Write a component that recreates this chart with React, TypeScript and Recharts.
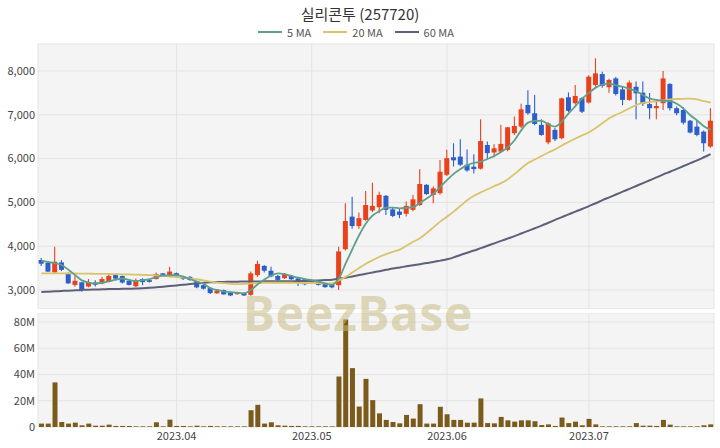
import { ComposedChart, Bar, Line, XAxis, YAxis, CartesianGrid } from 'recharts';

// trading days, 2023-03-06 .. 2023-07-27
const dates = [
  '2023-03-06', '2023-03-07', '2023-03-08', '2023-03-09', '2023-03-10', '2023-03-13', '2023-03-14', '2023-03-15', '2023-03-16', '2023-03-17',
  '2023-03-20', '2023-03-21', '2023-03-22', '2023-03-23', '2023-03-24', '2023-03-27', '2023-03-28', '2023-03-29', '2023-03-30', '2023-03-31',
  '2023-04-03', '2023-04-04', '2023-04-05', '2023-04-06', '2023-04-07', '2023-04-10', '2023-04-11', '2023-04-12', '2023-04-13', '2023-04-14',
  '2023-04-17', '2023-04-18', '2023-04-19', '2023-04-20', '2023-04-21', '2023-04-24', '2023-04-25', '2023-04-26', '2023-04-27', '2023-04-28',
  '2023-05-02', '2023-05-03', '2023-05-04', '2023-05-08', '2023-05-09', '2023-05-10', '2023-05-11', '2023-05-12', '2023-05-15', '2023-05-16',
  '2023-05-17', '2023-05-18', '2023-05-19', '2023-05-22', '2023-05-23', '2023-05-24', '2023-05-25', '2023-05-26', '2023-05-30', '2023-05-31',
  '2023-06-01', '2023-06-02', '2023-06-05', '2023-06-07', '2023-06-08', '2023-06-09', '2023-06-12', '2023-06-13', '2023-06-14', '2023-06-15',
  '2023-06-16', '2023-06-19', '2023-06-20', '2023-06-21', '2023-06-22', '2023-06-23', '2023-06-26', '2023-06-27', '2023-06-28', '2023-06-29',
  '2023-06-30', '2023-07-03', '2023-07-04', '2023-07-05', '2023-07-06', '2023-07-07', '2023-07-10', '2023-07-11', '2023-07-12', '2023-07-13',
  '2023-07-14', '2023-07-17', '2023-07-18', '2023-07-19', '2023-07-20', '2023-07-21', '2023-07-24', '2023-07-25', '2023-07-26', '2023-07-27',
];

const opens = [
  3685, 3620, 3404, 3630, 3380, 3115, 3175, 3080, 3170, 3150, 3205, 3340, 3320, 3210, 3085, 3250, 3225, 3250, 3380, 3330,
  3385, 3310, 3300, 3200, 3110, 3050, 2925, 3000, 2945, 2905, 2930, 2890, 3340, 3550, 3440, 3320, 3270, 3320, 3265, 3245,
  3155, 3190, 3135, 3120, 3110, 3930, 4675, 4460, 4600, 4815, 4890, 5150, 4840, 4790, 4740, 4830, 4940, 5400, 5170, 5210,
  5630, 6030, 6045, 5860, 5815, 5770, 6310, 6140, 6160, 6200, 6580, 6730, 7225, 7035, 6770, 6370, 6655, 6465, 7400, 7265,
  7380, 7280, 7680, 7930, 7630, 7830, 7580, 7340, 7640, 7505, 7245, 7150, 7265, 7705, 7150, 7110, 6865, 6730, 6615, 6275,
];
const highs = [
  3730, 3640, 3990, 3680, 3400, 3340, 3190, 3250, 3220, 3300, 3385, 3370, 3330, 3230, 3260, 3270, 3240, 3400, 3390, 3530,
  3400, 3330, 3320, 3210, 3120, 3070, 3000, 3010, 2960, 2960, 2945, 3420, 3670, 3570, 3530, 3340, 3390, 3340, 3280, 3260,
  3220, 3200, 3150, 3140, 3990, 4980, 5130, 4770, 5260, 5450, 5245, 5170, 4870, 4860, 5020, 5170, 5755, 5420, 5360, 5970,
  6200, 6350, 6440, 6210, 6100, 6900, 6390, 6330, 6770, 6720, 6960, 7250, 7560, 7450, 6900, 6830, 6700, 7390, 7510, 7680,
  7400, 7900, 8290, 7985, 7820, 7860, 7660, 7780, 7760, 7760, 7500, 7360, 8000, 7720, 7190, 7180, 6880, 6880, 6640, 7150,
];
const lows = [
  3550, 3410, 3390, 3430, 3140, 3075, 2960, 3060, 3080, 3130, 3190, 3220, 3150, 3100, 3070, 3110, 3170, 3240, 3320, 3310,
  3290, 3230, 3210, 3040, 3010, 2910, 2910, 2890, 2860, 2890, 2860, 2870, 3300, 3400, 3290, 3210, 3250, 3230, 3090, 3110,
  3140, 3100, 3050, 3040, 3000, 3900, 4400, 4400, 4580, 4780, 4750, 4710, 4660, 4640, 4680, 4800, 4920, 5170, 4980, 5180,
  5600, 5820, 5830, 5700, 5660, 5750, 5990, 6030, 6140, 6170, 6540, 6700, 7000, 6760, 6520, 6330, 6400, 6440, 7060, 7230,
  7040, 7260, 7640, 7620, 7505, 7440, 7220, 7320, 6900, 7200, 6900, 6900, 7110, 7100, 6990, 6780, 6570, 6510, 6160, 6250,
];
const closes = [
  3600, 3420, 3646, 3460, 3150, 3210, 3000, 3175, 3120, 3250, 3320, 3260, 3170, 3115, 3210, 3180, 3185, 3365, 3330, 3420,
  3310, 3250, 3230, 3060, 3030, 2930, 2985, 2900, 2875, 2945, 2875, 3380, 3595, 3440, 3310, 3230, 3365, 3245, 3190, 3130,
  3205, 3115, 3065, 3060, 3880, 4575, 4460, 4640, 4940, 4920, 5170, 4830, 4690, 4715, 4920, 5070, 5420, 5190, 5320, 5700,
  6010, 5960, 5860, 5730, 5760, 6400, 6125, 6235, 6335, 6715, 6745, 7125, 7035, 6790, 6540, 6805, 6440, 7375, 7090, 7430,
  7070, 7870, 7945, 7660, 7795, 7475, 7340, 7735, 7490, 7250, 7150, 7200, 7830, 7150, 7035, 6820, 6595, 6540, 6350, 6865,
];
// volume, millions of shares
const volumes = [
  2.6, 2.6, 34, 3.8, 2.6, 3.3, 1.3, 2.6, 1, 1, 1.8, 0.8, 0.8, 0.8, 0.5, 0.5, 0.5, 3.6, 0.5, 5.6,
  0.8, 0.8, 0.5, 1, 0.5, 0.8, 0.5, 0.5, 0.5, 0.5, 0.5, 12.8, 16.9, 2.6, 3.6, 1.3, 1, 0.8, 0.8, 0.5,
  0.5, 0.5, 0.5, 0.5, 38.5, 82, 44.9, 15.6, 36.7, 20.5, 10.4, 5.4, 3.8, 2.8, 9.2, 6.4, 17.4, 2.6, 2.6, 15.4,
  9.7, 5.4, 5.4, 3.3, 3.3, 21.8, 3, 2.8, 7.7, 5.1, 4.1, 5.1, 5.1, 4.4, 1.5, 2, 0.8, 7.2, 3, 4.1,
  1.3, 6.2, 2, 0.5, 0.5, 0.5, 0.5, 0.5, 3, 1, 1, 0.8, 5.4, 1.8, 0.5, 0.5, 0.5, 0.5, 1.3, 2,
];
const ma5 = [
  3670, 3640, 3610, 3570, 3460, 3340, 3220, 3170, 3150, 3165, 3195, 3235, 3262, 3230, 3205, 3225, 3250, 3290, 3327, 3335,
  3340, 3300, 3250, 3190, 3140, 3040, 3000, 2970, 2950, 2935, 2925, 3000, 3130, 3240, 3330, 3380, 3360, 3320, 3280, 3250,
  3225, 3190, 3150, 3115, 3260, 3600, 3930, 4250, 4520, 4700, 4800, 4880, 4880, 4865, 4875, 4890, 4990, 5090, 5200, 5350,
  5510, 5650, 5760, 5850, 5900, 5930, 5990, 6060, 6150, 6260, 6420, 6650, 6820, 6860, 6860, 6780, 6730, 6850, 7030, 7200,
  7370, 7500, 7620, 7690, 7710, 7670, 7640, 7590, 7540, 7450, 7370, 7340, 7320, 7310, 7250, 7140, 6990, 6870, 6740, 6660,
];
const ma20 = [
  3380, 3380, 3380, 3380, 3378, 3376, 3374, 3372, 3370, 3368, 3365, 3362, 3358, 3355, 3350, 3345, 3340, 3335, 3325, 3305,
  3295, 3280, 3265, 3245, 3220, 3190, 3170, 3155, 3140, 3135, 3140, 3150, 3160, 3165, 3165, 3165, 3165, 3165, 3160, 3160,
  3160, 3155, 3150, 3150, 3220, 3300, 3400, 3500, 3600, 3680, 3760, 3820, 3870, 3920, 4010, 4100, 4180, 4300, 4430, 4560,
  4674, 4790, 4920, 5050, 5150, 5230, 5300, 5370, 5440, 5530, 5650, 5780, 5900, 5980, 6060, 6140, 6210, 6300, 6380, 6460,
  6530, 6600, 6700, 6810, 6920, 7000, 7070, 7150, 7220, 7270, 7290, 7310, 7330, 7350, 7360, 7365, 7370, 7350, 7310, 7280,
];
const ma60 = [
  2955, 2962, 2970, 2978, 2985, 2992, 3000, 3008, 3012, 3016, 3020, 3023, 3026, 3029, 3032, 3040, 3050, 3062, 3075, 3090,
  3105, 3120, 3135, 3150, 3165, 3175, 3180, 3184, 3187, 3190, 3192, 3195, 3196, 3197, 3198, 3199, 3200, 3200, 3202, 3205,
  3210, 3218, 3226, 3236, 3255, 3280, 3310, 3340, 3370, 3400, 3430, 3460, 3490, 3515, 3540, 3565, 3590, 3615, 3640, 3670,
  3700, 3745, 3800, 3850, 3900, 3955, 4010, 4065, 4120, 4175, 4230, 4290, 4350, 4410, 4470, 4535, 4600, 4665, 4725, 4790,
  4850, 4915, 4980, 5050, 5115, 5180, 5245, 5310, 5375, 5440, 5505, 5570, 5640, 5700, 5765, 5830, 5895, 5960, 6030, 6100,
];

const priceTicks = [3000, 4000, 5000, 6000, 7000, 8000];
const volumeTicks = [0, 20, 40, 60, 80];
const monthTicks = ['2023-04-03', '2023-05-02', '2023-06-01', '2023-07-03'];

const UP = '#e8421d';
const DOWN = '#2d5fcb';
const FONT = '"Noto Sans CJK KR", "Noto Sans", sans-serif';

const data = dates.map((date, i) => ({
  date,
  open: opens[i],
  high: highs[i],
  low: lows[i],
  close: closes[i],
  volume: volumes[i],
  ma5: ma5[i],
  ma20: ma20[i],
  ma60: ma60[i],
}));

const Candle = (props: any) => {
  const { x, y, width, height, payload } = props;
  const { open, close, high, low } = payload;
  const color = close >= open ? UP : DOWN;
  const top0 = height < 0 ? y + height : y;
  const h = Math.abs(height);
  const ratio = high === low ? 0 : h / (high - low);
  const cx = x + width / 2;
  const bodyTop = top0 + (high - Math.max(open, close)) * ratio;
  const bodyBot = top0 + (high - Math.min(open, close)) * ratio;
  const bw = 5;
  return (
    <g>
      <line x1={cx} x2={cx} y1={top0} y2={top0 + h} stroke={color} strokeWidth={1.1} />
      <rect x={cx - bw / 2} y={bodyTop} width={bw} height={Math.max(1, bodyBot - bodyTop)} fill={color} />
    </g>
  );
};

const tickStyle = { fontSize: 11, fill: '#444', fontFamily: FONT };

const legendItems = [
  { label: '5 MA', color: '#5fa08c' },
  { label: '20 MA', color: '#d9c46c' },
  { label: '60 MA', color: '#5d6079' },
];

export default function App() {
  return (
    <div style={{ position: 'absolute', left: 0, top: 0, width: 720, height: 448, background: '#fff', fontFamily: FONT }}>
      <div style={{ position: 'absolute', top: 3, width: 720, textAlign: 'center', fontSize: 15, color: '#333' }}>
        실리콘투 (257720)
      </div>
      <div style={{ position: 'absolute', top: 24, width: 712, display: 'flex', justifyContent: 'center', gap: 12, fontSize: 11, color: '#555' }}>
        {legendItems.map((it) => (
          <div key={it.label} style={{ display: 'flex', alignItems: 'center', gap: 5 }}>
            <div style={{ width: 24, height: 2, background: it.color }} />
            <span>{it.label}</span>
          </div>
        ))}
      </div>

      <div style={{ position: 'absolute', left: 0, top: 0 }}>
        <ComposedChart width={720} height={309} data={data} margin={{ top: 44, right: 6, bottom: 0, left: 0 }}>
          <CartesianGrid fill="#f4f4f4" stroke="#e3e3e3" />
          <XAxis dataKey="date" hide ticks={monthTicks} />
          <YAxis
            domain={[2566, 8616]}
            ticks={priceTicks}
            width={38}
            axisLine={false}
            tickLine={false}
            tickSize={0}
            tickMargin={3}
            tick={tickStyle}
            tickFormatter={(v: number) => v.toLocaleString('en-US')}
          />
          <Bar dataKey={(d: any) => [d.low, d.high]} shape={Candle} isAnimationActive={false} />
          <Line dataKey="ma60" stroke="#5d6079" strokeWidth={2} dot={false} type="monotone" isAnimationActive={false} />
          <Line dataKey="ma20" stroke="#d9c46c" strokeWidth={1.8} dot={false} type="monotone" isAnimationActive={false} />
          <Line dataKey="ma5" stroke="#5fa08c" strokeWidth={1.8} dot={false} type="monotone" isAnimationActive={false} />
        </ComposedChart>
      </div>

      <div style={{ position: 'absolute', left: 0, top: 313 }}>
        <ComposedChart width={720} height={135} data={data} margin={{ top: 0, right: 6, bottom: 0, left: 0 }}>
          <CartesianGrid fill="#f4f4f4" stroke="#e3e3e3" />
          <XAxis
            dataKey="date"
            ticks={monthTicks}
            height={21}
            axisLine={false}
            tickLine={false}
            tickSize={0}
            tickMargin={5}
            tick={tickStyle}
            tickFormatter={(v: string) => v.slice(0, 7).replace('-', '.')}
          />
          <YAxis
            domain={[0, 86.9]}
            ticks={volumeTicks}
            width={38}
            axisLine={false}
            tickLine={false}
            tickSize={0}
            tickMargin={3}
            tick={tickStyle}
            tickFormatter={(v: number) => (v === 0 ? '0' : `${v}M`)}
          />
          <Bar dataKey="volume" fill="#7a5b1b" barSize={5} isAnimationActive={false} />
        </ComposedChart>
      </div>

      <div
        style={{
          position: 'absolute',
          left: 0,
          top: 280,
          width: 716,
          textAlign: 'center',
          fontSize: 48,
          fontWeight: 700,
          letterSpacing: 0.5,
          color: 'rgba(200, 186, 130, 0.55)',
          fontFamily: '"Noto Sans", sans-serif',
          pointerEvents: 'none',
        }}
      >
        BeezBase
      </div>
    </div>
  );
}
